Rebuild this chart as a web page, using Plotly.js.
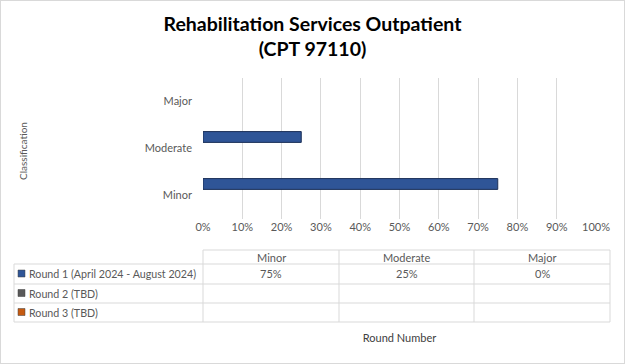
<!DOCTYPE html>
<html>
<head>
<meta charset="utf-8">
<script src="https://cdn.plot.ly/plotly-3.0.1.min.js"></script>
<style>
html,body{margin:0;padding:0;background:#fff;}
#chart{width:623px;height:362px;border:1px solid #d9d9d9;}
</style>
</head>
<body>
<div id="chart"></div>
<script>
// ---- data ----
const categories = ['Minor', 'Moderate', 'Major'];
const seriesNames = ['Round 1 (April 2024 - August 2024)', 'Round 2 (TBD)', 'Round 3 (TBD)'];
const round1 = [0.75, 0.25, 0];
const round2 = [null, null, null];
const round3 = [null, null, null];
const seriesValues = [round1, round2, round3];
const xTickVals = [0, 0.1, 0.2, 0.3, 0.4, 0.5, 0.6, 0.7, 0.8, 0.9, 1];
const titleText = 'Rehabilitation Services Outpatient<br>(CPT 97110)';
const yTitle = 'Classification';
const xTitle = 'Round Number';

// ---- style ----
const W = 623, H = 362;
const plotL = 202, plotR = 595, plotT = 77, plotB = 218;
const seriesColors = ['#2f5597', '#595959', '#c55a11'];
const font = 'Lato, "Open Sans", sans-serif';
const txtColor = '#595959';
const gridColor = '#d9d9d9';

function px2x(px) { return (px - plotL) / (plotR - plotL); }
function py2y(py) { return (plotB - py) / (plotB - plotT); }

const traces = [
  {
    type: 'bar', orientation: 'h', name: seriesNames[0],
    y: categories, x: round1,
    width: 0.23, offset: 0.13,
    marker: {color: seriesColors[0], line: {color: '#1b2f57', width: [1, 1, 0]}},
    showlegend: false, hoverinfo: 'x+y'
  },
  {
    type: 'bar', orientation: 'h', name: seriesNames[1],
    y: categories, x: round2, width: 0.23, offset: -0.1,
    marker: {color: seriesColors[1]}, showlegend: false
  },
  {
    type: 'bar', orientation: 'h', name: seriesNames[2],
    y: categories, x: round3, width: 0.23, offset: -0.33,
    marker: {color: seriesColors[2]}, showlegend: false
  }
];

// ---- data table under the chart ----
const colEdges = [13, 202, 338, 473, 609];
const rowEdges = [249, 263, 283, 302, 321];
const shapes = [];
const annotations = [];
const lineStyle = {color: gridColor, width: 1};
function hline(y, x0, x1) {
  shapes.push({type: 'line', xref: 'paper', yref: 'paper', x0: px2x(x0), x1: px2x(x1), y0: py2y(y), y1: py2y(y), line: lineStyle});
}
function vline(x, y0, y1) {
  shapes.push({type: 'line', xref: 'paper', yref: 'paper', x0: px2x(x), x1: px2x(x), y0: py2y(y0), y1: py2y(y1), line: lineStyle});
}
hline(rowEdges[0], colEdges[1], colEdges[4]);
for (let r = 1; r < rowEdges.length; r++) hline(rowEdges[r], colEdges[0], colEdges[4]);
vline(colEdges[0], rowEdges[1], rowEdges[4]);
for (let c = 1; c < colEdges.length; c++) vline(colEdges[c], rowEdges[0], rowEdges[4]);

// header
categories.forEach((cat, i) => {
  annotations.push({
    xref: 'paper', yref: 'paper', showarrow: false,
    x: px2x((colEdges[i + 1] + colEdges[i + 2]) / 2),
    y: py2y((rowEdges[0] + rowEdges[1]) / 2),
    text: cat, font: {family: font, size: 11, color: txtColor},
    xanchor: 'center', yanchor: 'middle'
  });
});
// rows
seriesNames.forEach((name, s) => {
  const yc = (rowEdges[s + 1] + rowEdges[s + 2]) / 2 - 0.5;
  shapes.push({
    type: 'rect', xref: 'paper', yref: 'paper',
    x0: px2x(17), x1: px2x(24), y0: py2y(yc + 3.5), y1: py2y(yc - 3.5),
    fillcolor: seriesColors[s], line: {color: '#404040', width: 0.5}
  });
  annotations.push({
    xref: 'paper', yref: 'paper', showarrow: false,
    x: px2x(26), y: py2y(yc),
    text: name, font: {family: font, size: 10.7, color: txtColor},
    xanchor: 'left', yanchor: 'middle'
  });
  seriesValues[s].forEach((v, i) => {
    if (v === null) return;
    annotations.push({
      xref: 'paper', yref: 'paper', showarrow: false,
      x: px2x((colEdges[i + 1] + colEdges[i + 2]) / 2), y: py2y(yc),
      text: Math.round(v * 100) + '%', font: {family: font, size: 11, color: txtColor},
      xanchor: 'center', yanchor: 'middle'
    });
  });
});
// y axis title
annotations.push({
  xref: 'paper', yref: 'paper', showarrow: false,
  x: px2x(22), y: py2y(150), textangle: -90,
  text: yTitle, font: {family: font, size: 10, color: txtColor},
  xanchor: 'center', yanchor: 'middle'
});

const layout = {
  width: W, height: H,
  margin: {l: plotL, r: W - plotR, t: plotT, b: H - plotB, pad: 0},
  paper_bgcolor: '#ffffff', plot_bgcolor: '#ffffff',
  font: {family: font, color: txtColor},
  title: {
    text: titleText, x: 0.5, xref: 'container', xanchor: 'center',
    y: 1 - 30 / H, yanchor: 'top', yref: 'container',
    font: {family: font, size: 19.5, color: '#000000', weight: 'bold'}
  },
  barmode: 'overlay',
  xaxis: {
    range: [0, 1], tickvals: xTickVals, tickformat: '.0%',
    showgrid: true, gridcolor: gridColor, gridwidth: 1,
    zeroline: false, showline: false, ticks: '',
    tickfont: {family: font, size: 11, color: txtColor},
    fixedrange: true, automargin: false,
    title: {text: xTitle, font: {family: font, size: 11, color: '#404040'}, standoff: 102}
  },
  yaxis: {
    type: 'category', categoryorder: 'array', categoryarray: categories,
    range: [-0.5, 2.5], showgrid: false, zeroline: false, showline: false,
    ticks: '', ticklabelstandoff: 10,
    tickfont: {family: font, size: 11, color: txtColor},
    fixedrange: true, automargin: false
  },
  shapes: shapes,
  annotations: annotations
};

Plotly.newPlot('chart', traces, layout, {staticPlot: true, displayModeBar: false});
</script>
</body>
</html>
